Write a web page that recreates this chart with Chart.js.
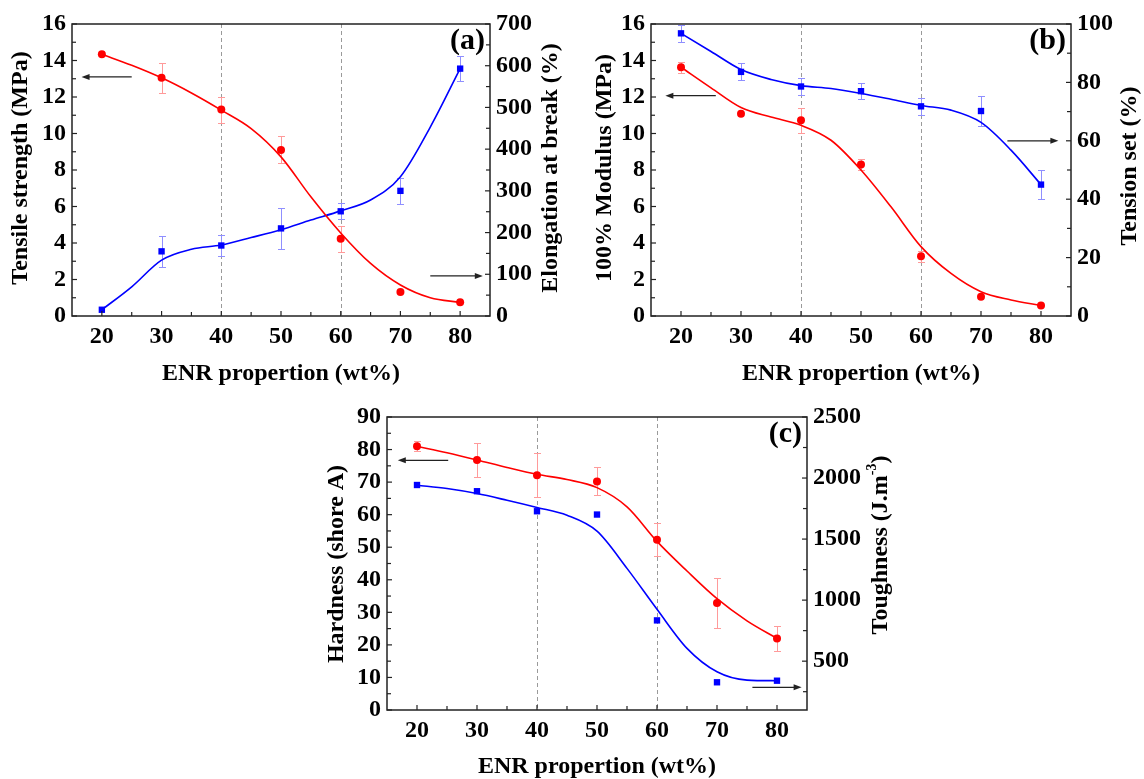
<!DOCTYPE html>
<html>
<head>
<meta charset="utf-8">
<script src="https://cdn.jsdelivr.net/npm/chart.js@4.4.1/dist/chart.umd.min.js"></script>
<style>
  body { margin: 0; background: #fff; width: 1144px; height: 779px; overflow: hidden; position: relative; }
  canvas { position: absolute; }
</style>
</head>
<body>
<canvas id="chartA" width="572" height="390" style="left:0;top:0"></canvas>
<canvas id="chartB" width="572" height="390" style="left:572px;top:0"></canvas>
<canvas id="chartC" width="600" height="389" style="left:300px;top:390px"></canvas>
<script>
// ENR content, shared by all three panels
const enr = [20, 30, 40, 50, 60, 70, 80];
const fitEnr = [20, 25, 30, 35, 40, 45, 50, 55, 60, 65, 70, 75, 80];
const xTicks = [20, 30, 40, 50, 60, 70, 80];
const xMinor = [25, 35, 45, 55, 65, 75];
const dashedAt = [40, 60];

// (a) tensile strength (MPa) and elongation at break (%)
const tensile = [14.34, 13.05, 11.31, 9.10, 4.23, 1.31, 0.75];
const tensileErr = [0, 0.81, 0.71, 0.74, 0.71, 0, 0];
const tensileFit = [14.34, 13.74, 13.05, 12.22, 11.28, 10.27, 8.72, 6.53, 4.55, 2.88, 1.70, 1.00, 0.75];
const elongation = [15, 155, 169, 210, 251, 300, 593];
const elongationErr = [0, 37, 25, 49, 19, 31, 30];
const elongationFit = [15, 70, 134, 160, 170, 188, 207, 230, 252, 278, 334, 453, 593];
const tensileTicks = [0, 2, 4, 6, 8, 10, 12, 14, 16];
const tensileMinor = [1, 3, 5, 7, 9, 11, 13, 15];
const elongationTicks = [0, 100, 200, 300, 400, 500, 600, 700];
const elongationMinor = [50, 150, 250, 350, 450, 550, 650];

// (b) 100% modulus (MPa) and tension set (%)
const modulus = [13.63, 11.08, 10.73, 8.30, 3.28, 1.06, 0.57];
const modulusErr = [0.3, 0, 0.69, 0.3, 0.3, 0, 0];
const modulusFit = [13.63, 12.5, 11.42, 10.9, 10.45, 9.63, 8.0, 5.98, 3.8, 2.33, 1.33, 0.88, 0.57];
const tensionSet = [96.8, 83.6, 78.6, 77.0, 71.8, 70.2, 45.0];
const tensionSetErr = [2.8, 2.9, 2.9, 2.85, 2.9, 5.0, 5.0];
const tensionSetFit = [96.8, 90.6, 84.4, 81.0, 78.9, 77.9, 76.2, 74.2, 72.1, 70.5, 66.3, 56.8, 45.0];
const modulusTicks = [0, 2, 4, 6, 8, 10, 12, 14, 16];
const modulusMinor = [1, 3, 5, 7, 9, 11, 13, 15];
const tensionSetTicks = [0, 20, 40, 60, 80, 100];
const tensionSetMinor = [10, 30, 50, 70, 90];

// (c) hardness (shore A) and toughness (J.m-3)
const hardness = [81.0, 76.8, 72.1, 70.2, 52.3, 32.9, 22.0];
const hardnessErr = [1.5, 5.1, 6.7, 4.3, 5.0, 7.6, 3.8];
const hardnessFit = [81.0, 79.0, 76.8, 74.5, 72.4, 70.8, 68.3, 62.4, 51.8, 42.7, 34.2, 27.4, 22.0];
const toughness = [1943, 1892, 1728, 1701, 834, 327, 340];
const toughnessFit = [1941, 1914, 1873, 1818, 1759, 1695, 1565, 1260, 925, 605, 413, 345, 340];
const hardnessTicks = [0, 10, 20, 30, 40, 50, 60, 70, 80, 90];
const hardnessMinor = [5, 15, 25, 35, 45, 55, 65, 75, 85];
const toughnessTicks = [500, 1000, 1500, 2000, 2500];
const toughnessMinor = [250, 750, 1250, 1750, 2250];

const RED = "#ff0000";
const BLUE = "#0000ff";
const FONT = "'Liberation Serif', 'Times New Roman', serif";

Chart.defaults.font.family = FONT;
Chart.defaults.color = "#000";

const zip = (xs, ys) => xs.map((x, i) => ({ x, y: ys[i] }));

function vText(ctx, parts, x, y) {
    // parts drawn bottom-to-top, centred on (x, y)
    ctx.save();
    ctx.translate(x, y);
    ctx.rotate(-Math.PI / 2);
    let total = 0;
    parts.forEach(p => { ctx.font = p.font; total += ctx.measureText(p.text).width; });
    let cx = -total / 2;
    ctx.textBaseline = "middle";
    ctx.textAlign = "left";
    parts.forEach(p => {
        ctx.font = p.font;
        ctx.fillText(p.text, cx, -(p.rise || 0));
        cx += ctx.measureText(p.text).width;
    });
    ctx.restore();
}

function arrow(ctx, x1, y1, x2, y2) {
    const dir = Math.sign(x2 - x1);
    ctx.beginPath();
    ctx.moveTo(x1, y1);
    ctx.lineTo(x2 - dir * 6, y2);
    ctx.stroke();
    ctx.beginPath();
    ctx.moveTo(x2, y2);
    ctx.lineTo(x2 - dir * 8, y2 - 3);
    ctx.lineTo(x2 - dir * 8, y2 + 3);
    ctx.closePath();
    ctx.fill();
}

function panelPlugin(p) {
    return {
        id: "panel" + p.label,
        beforeDatasetsDraw(chart) {
            const { ctx, chartArea: a, scales } = chart;
            ctx.save();
            ctx.strokeStyle = "#9a9a9a";
            ctx.lineWidth = 1;
            ctx.setLineDash([4, 3]);
            dashedAt.forEach(v => {
                const x = Math.round(scales.x.getPixelForValue(v)) + 0.5;
                ctx.beginPath();
                ctx.moveTo(x, a.top);
                ctx.lineTo(x, a.bottom);
                ctx.stroke();
            });
            ctx.setLineDash([]);
            chart.data.datasets.forEach(ds => {
                if (!ds.errors) return;
                const ys = scales[ds.yAxisID];
                ctx.strokeStyle = ds.errColor;
                ctx.lineWidth = 1;
                ds.data.forEach((pt, j) => {
                    const e = ds.errors[j];
                    if (!e) return;
                    const x = Math.round(scales.x.getPixelForValue(pt.x)) + 0.5;
                    const yTop = Math.round(ys.getPixelForValue(pt.y + e)) + 0.5;
                    const yBot = Math.round(ys.getPixelForValue(pt.y - e)) + 0.5;
                    ctx.beginPath();
                    ctx.moveTo(x, yTop); ctx.lineTo(x, yBot);
                    ctx.moveTo(x - 3.5, yTop); ctx.lineTo(x + 3.5, yTop);
                    ctx.moveTo(x - 3.5, yBot); ctx.lineTo(x + 3.5, yBot);
                    ctx.stroke();
                });
            });
            ctx.restore();
        },
        afterDraw(chart) {
            const { ctx, chartArea: a, scales } = chart;
            ctx.save();
            // frame
            ctx.strokeStyle = "#222";
            ctx.lineWidth = 1.5;
            ctx.strokeRect(a.left, a.top, a.right - a.left, a.bottom - a.top);
            // inward ticks
            ctx.lineWidth = 1.2;
            const tickX = (vals, len) => vals.forEach(v => {
                const x = scales.x.getPixelForValue(v);
                ctx.beginPath(); ctx.moveTo(x, a.bottom); ctx.lineTo(x, a.bottom - len); ctx.stroke();
            });
            const tickY = (scale, vals, len, side) => vals.forEach(v => {
                const y = scale.getPixelForValue(v);
                const x0 = side === "left" ? a.left : a.right;
                const dx = side === "left" ? len : -len;
                ctx.beginPath(); ctx.moveTo(x0, y); ctx.lineTo(x0 + dx, y); ctx.stroke();
            });
            tickX(xTicks, 5);
            tickX(xMinor, 4);
            tickY(scales.y, p.leftTicks, 5, "left");
            tickY(scales.y, p.leftMinor, 4, "left");
            tickY(scales.y2, p.rightTicks, 5, "right");
            tickY(scales.y2, p.rightMinor, 4, "right");
            // arrows
            ctx.strokeStyle = "#222";
            ctx.fillStyle = "#222";
            ctx.lineWidth = 1.3;
            p.arrows.forEach(ar => {
                const ys = scales[ar.axis];
                const y = ys.getPixelForValue(ar.y);
                arrow(ctx, scales.x.getPixelForValue(ar.from), y, scales.x.getPixelForValue(ar.to), y);
            });
            // titles
            ctx.fillStyle = "#000";
            const tf = "bold 24px " + FONT;
            vText(ctx, [{ text: p.leftTitle, font: tf }], p.leftTitlePos[0], p.leftTitlePos[1]);
            vText(ctx, p.rightTitle.map(t => ({ text: t.text, font: (t.sup ? "bold 14px " : "bold 24px ") + FONT, rise: t.sup ? 9 : 0 })),
                p.rightTitlePos[0], p.rightTitlePos[1]);
            ctx.font = tf;
            ctx.textAlign = "center";
            ctx.textBaseline = "middle";
            ctx.fillText("ENR propertion (wt%)", (a.left + a.right) / 2, p.xTitleY);
            ctx.font = "bold 30px " + FONT;
            ctx.textAlign = "right";
            ctx.fillText("(" + p.label + ")", a.right - 5, a.top + 17);
            ctx.restore();
        }
    };
}

function buildChart(id, p) {
    const tickFont = { size: 24, weight: "bold", family: FONT };
    const label = v => String(v);
    const grid = { display: false, drawTicks: false };
    return new Chart(document.getElementById(id), {
        type: "line",
        data: {
            datasets: [
                { data: zip(fitEnr, p.leftFit), yAxisID: "y", borderColor: RED, borderWidth: 1.6,
                  pointRadius: 0, cubicInterpolationMode: "monotone" },
                { data: zip(enr, p.left), yAxisID: "y", showLine: false, pointStyle: "circle", pointRadius: 4,
                  backgroundColor: RED, borderColor: RED, borderWidth: 0, errors: p.leftErr, errColor: "#ff9a9a" },
                { data: zip(fitEnr, p.rightFit), yAxisID: "y2", borderColor: BLUE, borderWidth: 1.6,
                  pointRadius: 0, cubicInterpolationMode: "monotone" },
                { data: zip(enr, p.right), yAxisID: "y2", showLine: false, pointStyle: "rect", pointRadius: 4.5,
                  backgroundColor: BLUE, borderColor: BLUE, borderWidth: 0, errors: p.rightErr, errColor: "#8f8fff" }
            ]
        },
        options: {
            responsive: false,
            animation: false,
            layout: { padding: { top: p.top, left: 0, right: 0, bottom: 0 }, autoPadding: false },
            plugins: { legend: { display: false }, tooltip: { enabled: false } },
            scales: {
                x: {
                    type: "linear", min: 15, max: 85,
                    grid: grid, border: { display: false },
                    ticks: { font: tickFont, color: "#000", padding: 6, maxRotation: 0, autoSkip: false, callback: label },
                    afterBuildTicks: s => { s.ticks = xTicks.map(v => ({ value: v })); },
                    afterFit: s => { s.height = p.xHeight; }
                },
                y: {
                    type: "linear", position: "left", min: p.leftRange[0], max: p.leftRange[1],
                    grid: grid, border: { display: false },
                    ticks: { font: tickFont, color: "#000", padding: 6, autoSkip: false, callback: label },
                    afterBuildTicks: s => { s.ticks = p.leftTicks.map(v => ({ value: v })); },
                    afterFit: s => { s.width = p.leftWidth; }
                },
                y2: {
                    type: "linear", position: "right", min: p.rightRange[0], max: p.rightRange[1],
                    grid: grid, border: { display: false },
                    ticks: { font: tickFont, color: "#000", padding: 6, autoSkip: false, callback: label },
                    afterBuildTicks: s => { s.ticks = p.rightLabels.map(v => ({ value: v })); },
                    afterFit: s => { s.width = p.rightWidth; }
                }
            }
        },
        plugins: [panelPlugin(p)]
    });
}

buildChart("chartA", {
    label: "a", top: 24, xHeight: 74, leftWidth: 72, rightWidth: 82,
    left: tensile, leftErr: tensileErr, leftFit: tensileFit, leftRange: [0, 16],
    leftTicks: tensileTicks, leftMinor: tensileMinor,
    right: elongation, rightErr: elongationErr, rightFit: elongationFit, rightRange: [0, 700],
    rightTicks: elongationTicks, rightLabels: elongationTicks, rightMinor: elongationMinor,
    leftTitle: "Tensile strength (MPa)", leftTitlePos: [21, 168],
    rightTitle: [{ text: "Elongation at break (%)" }], rightTitlePos: [551, 168],
    xTitleY: 374,
    arrows: [{ axis: "y", y: 13.1, from: 25.0, to: 16.6 }, { axis: "y2", y: 96, from: 75.0, to: 83.8 }]
});

buildChart("chartB", {
    label: "b", top: 24, xHeight: 74, leftWidth: 79, rightWidth: 73,
    left: modulus, leftErr: modulusErr, leftFit: modulusFit, leftRange: [0, 16],
    leftTicks: modulusTicks, leftMinor: modulusMinor,
    right: tensionSet, rightErr: tensionSetErr, rightFit: tensionSetFit, rightRange: [0, 100],
    rightTicks: tensionSetTicks, rightLabels: tensionSetTicks, rightMinor: tensionSetMinor,
    leftTitle: "100% Modulus (MPa)", leftTitlePos: [33, 168],
    rightTitle: [{ text: "Tension set (%)" }], rightTitlePos: [558, 166],
    xTitleY: 374,
    arrows: [{ axis: "y", y: 12.07, from: 25.8, to: 17.4 }, { axis: "y2", y: 60, from: 74.4, to: 82.9 }]
});

buildChart("chartC", {
    label: "c", top: 27, xHeight: 69, leftWidth: 87, rightWidth: 93,
    left: hardness, leftErr: hardnessErr, leftFit: hardnessFit, leftRange: [0, 90],
    leftTicks: hardnessTicks, leftMinor: hardnessMinor,
    right: toughness, rightErr: null, rightFit: toughnessFit, rightRange: [100, 2500],
    rightTicks: toughnessTicks, rightLabels: toughnessTicks, rightMinor: toughnessMinor,
    leftTitle: "Hardness (shore A)", leftTitlePos: [37, 174],
    rightTitle: [{ text: "Toughness (J.m" }, { text: "-3", sup: true }, { text: ")" }], rightTitlePos: [581, 155],
    xTitleY: 377,
    arrows: [{ axis: "y", y: 76.7, from: 25.2, to: 16.8 }, { axis: "y", y: 6.97, from: 75.9, to: 84.1 }]
});
</script>
</body>
</html>
